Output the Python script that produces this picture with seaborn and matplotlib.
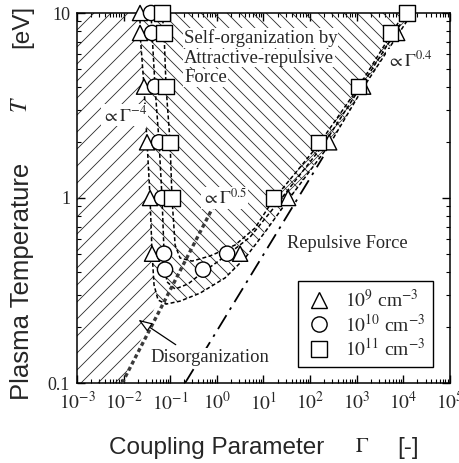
import numpy as np
import pandas as pd
import matplotlib
matplotlib.use("Agg")
import matplotlib.pyplot as plt
import seaborn as sns
from matplotlib.patches import Polygon
from matplotlib.lines import Line2D
from matplotlib.collections import LineCollection
from matplotlib.ticker import LogLocator, NullFormatter, FixedLocator

# ---------------- data ----------------
# markers: coupling parameter Gamma and temperature T [eV]
tri_gamma = [0.0225, 0.0225, 0.0274, 0.0318, 0.0369, 0.0407, 3.15, 33.7, 256, 1370, 7360]
tri_T = [10, 7.8, 4.0, 2.0, 1.0, 0.5, 0.5, 1.0, 2.0, 4.0, 7.8]
cir_gamma = [0.0387, 0.0407, 0.0472, 0.0575, 0.0667, 0.0736, 0.0773, 0.506, 1.66]
cir_T = [10, 7.8, 4.0, 2.0, 1.0, 0.5, 0.41, 0.41, 0.5]
sq_gamma = [0.0667, 0.0736, 0.0813, 0.099, 0.109, 16.1, 149, 1070, 5210, 12000]
sq_T = [10, 7.8, 4.0, 2.0, 1.0, 1.0, 2.0, 4.0, 7.8, 10]

# dashed boundary curves (one per density)
tri_curve_gamma = [0.0225, 0.0225, 0.0274, 0.0318, 0.0369, 0.0407, 0.0449, 0.0547, 0.0813,
                   0.162, 0.436, 1.50, 4.03, 10.8, 33.7, 256, 1370, 7360, 15450]
tri_curve_T = [10, 7.8, 3.98, 2.01, 1.0, 0.505, 0.339, 0.281, 0.267,
               0.277, 0.306, 0.370, 0.474, 0.655, 0.975, 1.93, 3.94, 7.52, 10]
cir_curve_gamma = [0.0387, 0.0407, 0.0472, 0.0575, 0.0667, 0.0736, 0.0773, 0.0853, 0.127,
                   0.241, 0.506, 1.66, 5.15, 22.7, 190, 1180, 6040, 12080]
cir_curve_T = [10, 7.8, 3.98, 2.01, 1.0, 0.505, 0.408, 0.352, 0.322,
               0.343, 0.398, 0.492, 0.615, 0.975, 1.93, 3.94, 7.52, 10]
sq_curve_gamma = [0.0667, 0.0736, 0.0813, 0.099, 0.109, 0.127, 0.162, 0.294, 0.714,
                  2.46, 6.61, 16.1, 149, 1070, 5210, 10400]
sq_curve_T = [10, 7.8, 3.98, 2.01, 1.0, 0.557, 0.474, 0.456, 0.486,
              0.557, 0.689, 0.975, 1.93, 3.94, 7.52, 10]

# reference power-law lines
g05_gamma = [0.0093, 0.828]
g05_T = [0.1, 0.894]
g04_gamma = [0.208, 190]
g04_T = [0.1, 1.67]

density_labels = ["$10^{9}$ cm$^{-3}$", "$10^{10}$ cm$^{-3}$", "$10^{11}$ cm$^{-3}$"]
x_tick_exp = [-3, -2, -1, 0, 1, 2, 3, 4, 5]
y_ticks = [0.1, 1, 10]
y_tick_labels = ["0.1", "1", "10"]

# ---------------- style ----------------
sns.set_theme(style="ticks")
plt.rcParams["font.family"] = ["Liberation Serif", "DejaVu Serif"]
plt.rcParams["mathtext.fontset"] = "stix"
plt.rcParams["axes.linewidth"] = 1.1

W_PX, H_PX = 460, 463
fig = plt.figure(figsize=(W_PX / 100, H_PX / 100), dpi=100)
AX_L, AX_R, AX_T, AX_B = 77, 450, 13, 383
ax = fig.add_axes([AX_L / W_PX, 1 - AX_B / H_PX, (AX_R - AX_L) / W_PX, (AX_B - AX_T) / H_PX])
ax.set_xscale("log")
ax.set_yscale("log")
ax.set_xlim(1e-3, 1e5)
ax.set_ylim(0.1, 10)
ax.set_facecolor("white")


def hatch_region(xy, spacing, direction, lw=0.6, color="#2a2a2a"):
    patch = Polygon(xy, closed=True, fill=False, edgecolor="none", transform=ax.transData)
    ax.add_patch(patch)
    Wp, Hp = AX_R - AX_L, AX_B - AX_T
    segs = []
    for c in np.arange(-Hp, Wp + Hp, spacing):
        if direction == "/":
            segs.append([(c / Wp, 0), ((c + Hp) / Wp, 1)])
        else:
            segs.append([(c / Wp, 1), ((c + Hp) / Wp, 0)])
    lc = LineCollection(segs, colors=color, linewidths=lw, transform=ax.transAxes, zorder=1)
    ax.add_collection(lc)
    lc.set_clip_path(patch)


# self-organization region: inside the outer (1e9) curve
self_org = list(zip(tri_curve_gamma, tri_curve_T))
hatch_region(self_org, 13, "\\")

# disorganization region: left of the outer curve, above the Gamma^0.5 line
n_left = 8  # points of the outer curve down to its crossing with the Gamma^0.5 line
dis = [(1e-3, 10), (1e-3, 0.1), (g05_gamma[0], g05_T[0])]
dis += list(zip(tri_curve_gamma[:n_left], tri_curve_T[:n_left]))[::-1]
hatch_region(dis, 17, "/")

# cross-hatched band between the curves on the repulsive side
band = list(zip(sq_curve_gamma[11:], sq_curve_T[11:])) + list(zip(tri_curve_gamma[14:], tri_curve_T[14:]))[::-1]
hatch_region(band, 6, "/", lw=0.5)

# dashed curves
for gx, ty in [(tri_curve_gamma, tri_curve_T), (cir_curve_gamma, cir_curve_T), (sq_curve_gamma, sq_curve_T)]:
    dfc = pd.DataFrame({"Gamma": gx, "T": ty})
    sns.lineplot(data=dfc, x="Gamma", y="T", sort=False, estimator=None, ax=ax,
                 color="black", lw=1.1, linestyle=(0, (2.6, 1.6)), zorder=3)

# power-law guide lines
sns.lineplot(x=g05_gamma, y=g05_T, ax=ax, color="#3a3a3a", lw=2.4,
             linestyle=(0, (1.2, 0.9)), zorder=3)
sns.lineplot(x=g04_gamma, y=g04_T, ax=ax, color="black", lw=1.3,
             linestyle=(0, (9, 3.5, 1.5, 3.5)), zorder=3)

# markers
df = pd.concat([
    pd.DataFrame({"Gamma": tri_gamma, "T": tri_T, "n": density_labels[0]}),
    pd.DataFrame({"Gamma": cir_gamma, "T": cir_T, "n": density_labels[1]}),
    pd.DataFrame({"Gamma": sq_gamma, "T": sq_T, "n": density_labels[2]}),
])
marker_map = {density_labels[0]: "^", density_labels[1]: "o", density_labels[2]: "s"}
sns.scatterplot(data=df, x="Gamma", y="T", style="n", markers=marker_map, ax=ax,
                color="white", edgecolor="black", linewidth=1.0, s=120, legend=False,
                zorder=5, clip_on=False)

# annotations
box = dict(fc="white", ec="none", pad=0.6)
ax.text(0.198, 7.33, "Self-organization by", fontsize=13.5, ha="left", va="center", bbox=box, zorder=4)
ax.text(0.198, 5.71, "Attractive-repulsive", fontsize=13.5, ha="left", va="center", bbox=box, zorder=4)
ax.text(0.198, 4.46, "Force", fontsize=13.5, ha="left", va="center", bbox=box, zorder=4)
ax.text(0.00343, 2.81, r"$\propto\Gamma^{-4}$", fontsize=13, ha="left", va="center", bbox=box, zorder=4)
ax.text(0.481, 1.0, r"$\propto\Gamma^{0.5}$", fontsize=13, ha="left", va="center", bbox=box, zorder=4)
ax.text(4490, 5.57, r"$\propto\Gamma^{0.4}$", fontsize=13, ha="left", va="center", bbox=box, zorder=4)
ax.text(32, 0.571, "Repulsive Force", fontsize=13.2, ha="left", va="center", zorder=4)
ax.text(0.0369, 0.138, "Disorganization", fontsize=13.4, ha="left", va="center", bbox=box, zorder=4)
ax.annotate("", xy=(0.0185, 0.224), xytext=(0.147, 0.158),
            arrowprops=dict(arrowstyle="-|>,head_length=0.7,head_width=0.25",
                            ec="black", fc="white", lw=0.9), zorder=4)

# axes ticks
ax.xaxis.set_major_locator(FixedLocator([10.0 ** k for k in x_tick_exp]))
ax.set_xticklabels([f"$10^{{{k}}}$" for k in x_tick_exp])
ax.xaxis.set_minor_locator(LogLocator(base=10, subs=np.arange(2, 10), numticks=100))
ax.xaxis.set_minor_formatter(NullFormatter())
ax.yaxis.set_major_locator(FixedLocator(y_ticks))
ax.set_yticklabels(y_tick_labels)
ax.yaxis.set_minor_locator(LogLocator(base=10, subs=np.arange(2, 10), numticks=100))
ax.yaxis.set_minor_formatter(NullFormatter())
ax.tick_params(which="both", direction="in", top=True, right=True, color="black")
ax.tick_params(which="major", length=6, width=1.0)
ax.tick_params(which="minor", length=3, width=0.8)
ax.tick_params(axis="x", labelsize=14, pad=6)
ax.tick_params(axis="y", labelsize=13, pad=5)
ax.set_xlabel("")
ax.set_ylabel("")
for sp in ax.spines.values():
    sp.set_color("black")

# legend
handles = [Line2D([], [], marker=m, ls="none", mfc="white", mec="black", mew=1.0, ms=11)
           for m in ["^", "o", "s"]]
leg = ax.legend(handles, density_labels, loc="lower right", bbox_to_anchor=(0.954, 0.043),
                borderaxespad=0, frameon=True, fancybox=False, framealpha=1, edgecolor="black",
                prop={"family": "Liberation Serif", "size": 14}, handletextpad=0.6,
                labelspacing=0.12, borderpad=0.4, handlelength=1.4)
leg.get_frame().set_linewidth(1.0)
leg.set_zorder(6)

# axis titles
sans = ["Liberation Sans", "DejaVu Sans"]
fig.text(217 / W_PX, 1 - 448 / H_PX, "Coupling Parameter", fontsize=17.5, family=sans, ha="center", va="center")
fig.text(362 / W_PX, 1 - 447 / H_PX, r"$\Gamma$", fontsize=15, ha="center", va="center")
fig.text(408 / W_PX, 1 - 448 / H_PX, "[-]", fontsize=17.5, family=sans, ha="center", va="center")
fig.text(22 / W_PX, 1 - 281 / H_PX, "Plasma Temperature", fontsize=18.5, family=sans, rotation=90,
         ha="center", va="center")
fig.text(22 / W_PX, 1 - 105 / H_PX, "$T$", fontsize=17, rotation=90, ha="center", va="center")
fig.text(22 / W_PX, 1 - 26 / H_PX, "[eV]", fontsize=17.5, family=sans, rotation=90, ha="center", va="center")

fig.savefig("out.png", dpi=100, facecolor="white")
